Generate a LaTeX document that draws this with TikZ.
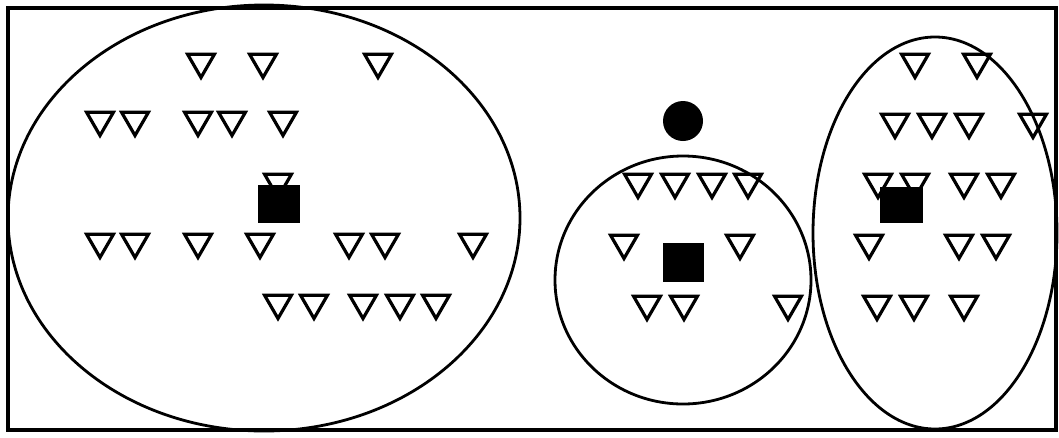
\documentclass[tikz,border=0pt]{standalone}
\usetikzlibrary{shapes.geometric}
\begin{document}
\begin{tikzpicture}[x=1pt,y=-1pt,
  tri/.style={draw=black,regular polygon,regular polygon sides=3,shape border rotate=180,minimum size=31pt,inner sep=0pt,line width=3.2pt,line join=miter},
  blk/.style={fill=black,draw=none,inner sep=0pt},
  ring/.style={draw=black,line width=2.8pt}]
\useasboundingbox (0,0) rectangle (1059,437);
\draw[line width=3.2pt] (8,8) rectangle (1056,430);
\draw[ring] (264,218) ellipse [x radius=256, y radius=213];
\draw[ring] (683,280) ellipse [x radius=128, y radius=124];
\draw[ring] (935,233) ellipse [x radius=122, y radius=196];
% left cluster
\foreach \x/\y [count=\i] in {201/62,263/62,378/62,
  100/120,135/120,198/120,232/120,283/120,
  278/182,
  100/242,135/242,198/242,260/242,349/242,385/242,473/242,
  278/303,314/303,363/303,400/303,436/303}
  \node[tri,name=l\i] at (\x,\y) {};
% middle cluster
\foreach \x/\y [count=\i] in {638/182,675/182,712/182,748/182,
  624/243,740/243,
  647/304,684/304,788/304}
  \node[tri,name=m\i] at (\x,\y) {};
% right cluster
\foreach \x/\y [count=\i] in {915/62,977/62,
  895/122,932/122,969/122,1033/122,
  878/182,915/182,964/182,1001/182,
  869/243,959/243,996/243,
  877/304,914/304,964/304}
  \node[tri,name=r\i] at (\x,\y) {};
\node[blk,minimum width=42pt,minimum height=38pt,name=sqL] at (279,204) {};
\node[blk,minimum width=41pt,minimum height=39pt,name=sqM] at (683.5,262.5) {};
\node[blk,minimum width=43pt,minimum height=36pt,name=sqR] at (901.5,205) {};
\node[blk,circle,minimum size=40pt,name=dot] at (683,121) {};
\end{tikzpicture}
\end{document}
